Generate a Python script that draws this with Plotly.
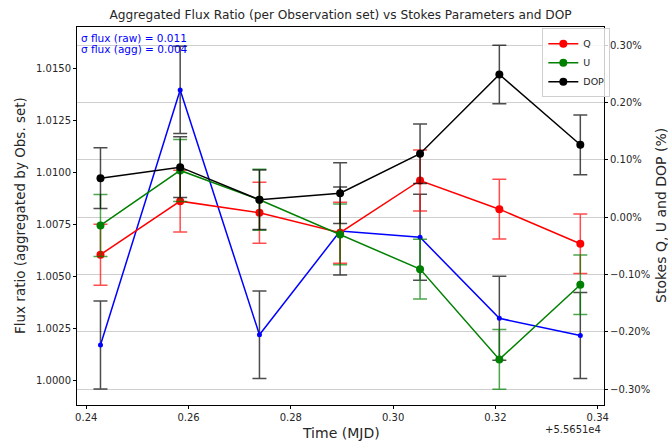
import plotly.graph_objects as go

# ---- data (time offset from MJD 55651) ----
time_offset = [0.24279, 0.25837, 0.27387, 0.28964, 0.30527, 0.32077, 0.33660]
flux_ratio = [1.00172, 1.01399, 1.00221, 1.00720, 1.00690, 1.00300, 1.00217]
flux_err = [0.00212, 0.00210, 0.00210, 0.00212, 0.00207, 0.00202, 0.00207]
q_pct = [-0.0655, 0.0279, 0.0077, -0.0272, 0.0639, 0.0139, -0.0463]
q_err = [0.053, 0.054, 0.053, 0.053, 0.053, 0.052, 0.052]
u_pct = [-0.0145, 0.0814, 0.0303, -0.0301, -0.0906, -0.2479, -0.1178]
u_err = [0.054, 0.054, 0.053, 0.053, 0.052, 0.052, 0.052]
dop_pct = [0.0679, 0.0871, 0.0303, 0.0418, 0.1105, 0.2486, 0.1261]
dop_err = [0.053, 0.053, 0.052, 0.053, 0.052, 0.051, 0.052]
sigma_raw = 0.011
sigma_agg = 0.004

FONT = "DejaVu Sans"
TXT = "#262626"

# plot-area geometry in pixels (for placing text)
L, R, T, B, W, H = 77, 604, 27, 405, 668, 442
PW, PH = R - L, B - T


def px(x):
    return (x - L) / PW


def py(y):
    return (B - y) / PH


fig = go.Figure()

fig.add_trace(go.Scatter(
    x=time_offset, y=flux_ratio, mode="lines+markers", name="Flux",
    line=dict(color="blue", width=1.5), marker=dict(color="blue", size=5),
    error_y=dict(type="data", array=flux_err, color="rgba(0,0,0,0.7)",
                 thickness=1.5, width=7),
    showlegend=False, yaxis="y"))

for name, vals, errs, col, ecol in [
        ("Q", q_pct, q_err, "red", "rgba(255,0,0,0.7)"),
        ("U", u_pct, u_err, "green", "rgba(0,128,0,0.7)"),
        ("DOP", dop_pct, dop_err, "black", "rgba(0,0,0,0.7)")]:
    fig.add_trace(go.Scatter(
        x=time_offset, y=vals, mode="lines+markers", name=name,
        line=dict(color=col, width=1.5), marker=dict(color=col, size=8),
        error_y=dict(type="data", array=errs, color=ecol, thickness=1.5, width=7),
        yaxis="y2"))

axis_common = dict(showline=True, linecolor="black", linewidth=1, ticks="outside",
                   ticklen=3, tickcolor="black", tickfont=dict(family=FONT, size=10, color=TXT),
                   zeroline=False, automargin=False)

fig.update_layout(
    width=W, height=H,
    margin=dict(l=L, r=W - R, t=T, b=H - B),
    paper_bgcolor="white", plot_bgcolor="white",
    font=dict(family=FONT, color=TXT),
    title=dict(text="Aggregated Flux Ratio (per Observation set) vs Stokes Parameters and DOP",
               x=(L + R) / 2 / W, xanchor="center", y=1 - 15 / H, yanchor="middle",
               font=dict(family=FONT, size=12.2, color=TXT)),
    xaxis=dict(range=[0.2382, 0.34123], tickmode="linear", tick0=0.24, dtick=0.02,
               tickformat=".2f", showgrid=False, mirror=True, **axis_common),
    yaxis=dict(range=[0.99883, 1.01702], tickmode="linear", tick0=1.0, dtick=0.0025,
               tickformat=".4f", showgrid=False, mirror=False, **axis_common),
    yaxis2=dict(range=[-0.3274, 0.3314], overlaying="y", side="right", tickmode="linear",
                tick0=0, dtick=0.1, tickformat=".2f", ticksuffix="%",
                showgrid=True, gridcolor="#cfcfcf", gridwidth=1, **axis_common),
    legend=dict(x=1.012, y=0.997, xanchor="right", yanchor="top",
                bgcolor="rgba(255,255,255,0.8)", bordercolor="#d0d0d0", borderwidth=1,
                font=dict(family=FONT, size=9.5, color=TXT), tracegroupgap=0,
                itemwidth=30),
    showlegend=True,
)

# axis titles
fig.add_annotation(xref="paper", yref="paper", x=px(20), y=0.5, textangle=-90,
                   xanchor="center", yanchor="middle", showarrow=False,
                   text="Flux ratio (aggregated by Obs. set)",
                   font=dict(family=FONT, size=13.5, color=TXT))
fig.add_annotation(xref="paper", yref="paper", x=px(661), y=0.5, textangle=-90,
                   xanchor="center", yanchor="middle", showarrow=False,
                   text="Stokes Q, U and DOP (%)",
                   font=dict(family=FONT, size=14, color=TXT))
fig.add_annotation(xref="paper", yref="paper", x=0.5, y=py(433),
                   xanchor="center", yanchor="middle", showarrow=False,
                   text="Time (MJD)", font=dict(family=FONT, size=14, color=TXT))
fig.add_annotation(xref="paper", yref="paper", x=px(603), y=py(430),
                   xanchor="right", yanchor="middle", showarrow=False,
                   text="+5.5651e4", font=dict(family=FONT, size=10, color=TXT))

# sigma texts
fig.add_annotation(xref="paper", yref="paper", x=px(79), y=py(38), xanchor="left",
                   yanchor="middle", text=f"σ flux (raw) = {sigma_raw:.3f}",
                   showarrow=False, font=dict(family=FONT, size=10.5, color="blue"))
fig.add_annotation(xref="paper", yref="paper", x=px(79), y=py(49), xanchor="left",
                   yanchor="middle", text=f"σ flux (agg) = {sigma_agg:.3f}",
                   showarrow=False, font=dict(family=FONT, size=10.5, color="blue"))

fig.write_html("out.html")
